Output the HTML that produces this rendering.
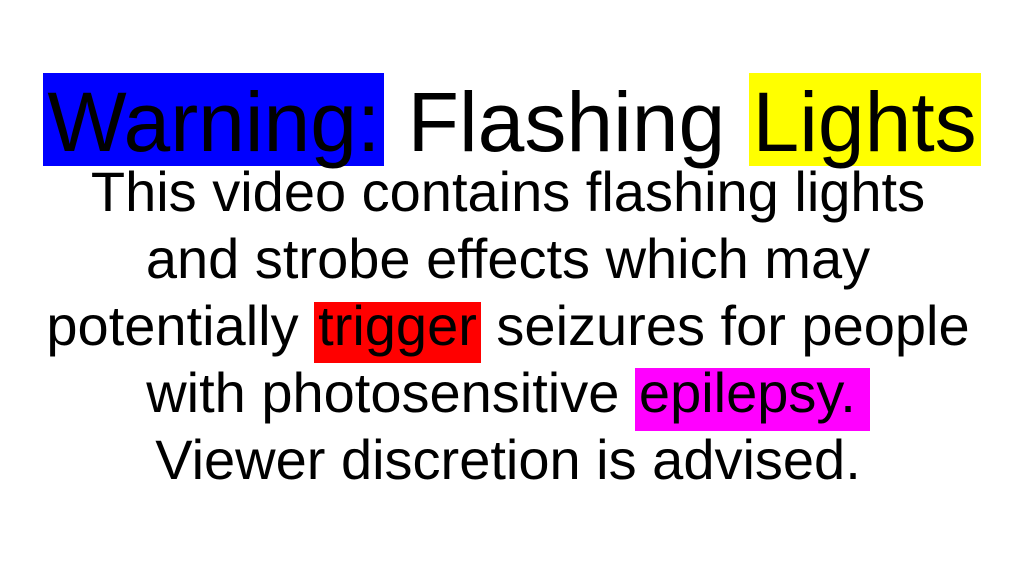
<!DOCTYPE html>
<html><head><meta charset="utf-8"><style>
html,body{margin:0;padding:0;background:#fff;}
body{width:1024px;height:576px;position:relative;overflow:hidden;font-family:"Liberation Sans",Arial,sans-serif;color:#000;}
.title{position:absolute;left:0;width:1024px;top:73px;text-align:center;font-size:84px;line-height:93px;height:93px;white-space:nowrap;}
.title span{display:inline-block;height:93px;line-height:98px;}
.b{background:#0000ff;padding:0 4px 0 4px;}
.y{background:#ffff00;padding:0 4px 0 4px;}
.body{position:absolute;left:-4px;width:1024px;top:158px;text-align:center;font-size:56px;line-height:67px;white-space:nowrap;}
.r{background:linear-gradient(transparent 8px,#ff0000 8px);padding:0 4px 6px 4px;}
.m{background:linear-gradient(transparent 7px,#ff00ff 7px);padding:0 14px 7px 4px;}
</style></head><body>
<div class="title"><span class="b">Warning:</span> Flashing <span class="y">Lights</span></div>
<div class="body">This video contains flashing lights<br>and strobe effects which may<br>potentially <span class="r">trigger</span> seizures for people<br>with photosensitive <span class="m">epilepsy.</span><br>Viewer discretion is advised.</div>
</body></html>
